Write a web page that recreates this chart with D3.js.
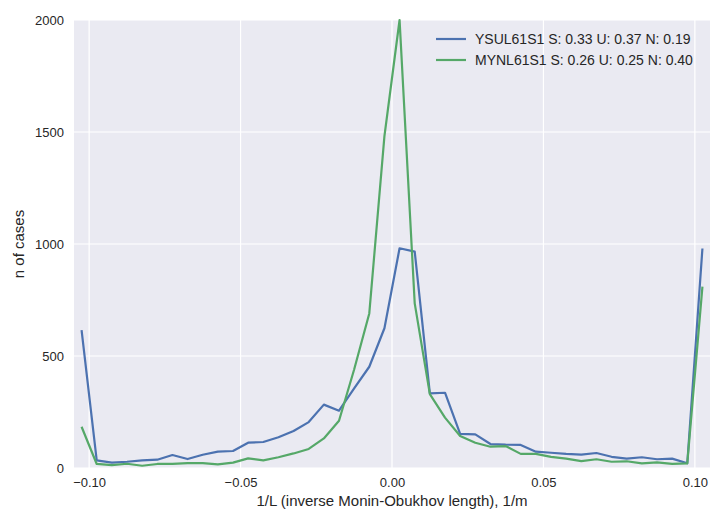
<!DOCTYPE html>
<html><head><meta charset="utf-8">
<script src="https://cdn.jsdelivr.net/npm/d3@7"></script>
<style>body{margin:0;background:#fff;} svg{display:block;}</style>
</head><body>
<svg id="c" width="710" height="517"></svg>
<script>
const binStart = -0.1025, binStep = 0.005;
const ysulValues = [615,34,24,28,34,37,58,40,59,73,76,113,116,137,165,205,283,256,355,452,624,981,966,333,336,152,150,107,104,103,73,68,63,60,67,50,42,48,39,42,21,980];
const mynlValues = [184,18,13,19,10,18,18,22,22,16,24,43,34,48,65,85,132,211,440,690,1482,2000,735,330,225,143,113,95,98,63,63,50,42,31,39,28,30,21,25,18,21,810];
const seriesNames = ["YSUL61S1 S: 0.33 U: 0.37 N: 0.19", "MYNL61S1 S: 0.26 U: 0.25 N: 0.40"];
const xTicks = [-0.10,-0.05,0.00,0.05,0.10];
const yTicks = [0,500,1000,1500,2000];
const colors = ["#4c72b0","#55a868"];

const svg = d3.select("#c");
const L=74,R=710,T=20,B=468;
const x = d3.scaleLinear().domain([-0.105,0.105]).range([L,R]);
const y = d3.scaleLinear().domain([0,2000]).range([B,T]);
svg.append("rect").attr("x",L).attr("y",T).attr("width",R-L).attr("height",B-T).attr("fill","#eaeaf2");
const g = svg.append("g");
g.selectAll(".gx").data(xTicks).enter().append("line").attr("x1",d=>x(d)).attr("x2",d=>x(d)).attr("y1",T).attr("y2",B).attr("stroke","#fff").attr("stroke-width",1.2);
g.selectAll(".gy").data(yTicks).enter().append("line").attr("x1",L).attr("x2",R).attr("y1",d=>y(d)).attr("y2",d=>y(d)).attr("stroke","#fff").attr("stroke-width",1.2);

const font = "Liberation Sans, Arial, sans-serif";
const xAxis = d3.axisBottom(x).tickValues(xTicks).tickFormat(d3.format(".2f")).tickSize(0).tickPadding(10);
const ax = svg.append("g").attr("transform",`translate(0,${B})`).call(xAxis);
ax.select(".domain").remove();
ax.selectAll("text").attr("font-family",font).attr("font-size",13).attr("fill","#262626").text(d=>d3.format(".2f")(d).replace("-","\u2212"));
const yAxis = d3.axisLeft(y).tickValues(yTicks).tickFormat(d3.format("d")).tickSize(0).tickPadding(10);
const ay = svg.append("g").attr("transform",`translate(${L},0)`).call(yAxis);
ay.select(".domain").remove();
ay.selectAll("text").attr("font-family",font).attr("font-size",13).attr("fill","#262626");

const xs = ysulValues.map((_,i)=>binStart+i*binStep);
const line = d3.line().x((d,i)=>x(xs[i])).y(d=>y(d));
[ysulValues,mynlValues].forEach((vals,k)=>{
  svg.append("path").datum(vals).attr("d",line).attr("fill","none").attr("stroke",colors[k]).attr("stroke-width",2.2).attr("stroke-linejoin","round");
});

svg.append("text").attr("x",(L+R)/2).attr("y",506).attr("text-anchor","middle").attr("font-family",font).attr("font-size",15).attr("fill","#262626").text("1/L (inverse Monin-Obukhov length), 1/m");
svg.append("text").attr("transform",`translate(24,${(T+B)/2}) rotate(-90)`).attr("text-anchor","middle").attr("font-family",font).attr("font-size",15).attr("fill","#262626").text("n of cases");

seriesNames.forEach((n,k)=>{
  const yy = 39 + k*21;
  svg.append("line").attr("x1",436).attr("x2",466).attr("y1",yy).attr("y2",yy).attr("stroke",colors[k]).attr("stroke-width",2.2);
  svg.append("text").attr("x",475).attr("y",yy+5).attr("font-family",font).attr("font-size",14).attr("fill","#262626").text(n);
});
</script>
</body></html>
